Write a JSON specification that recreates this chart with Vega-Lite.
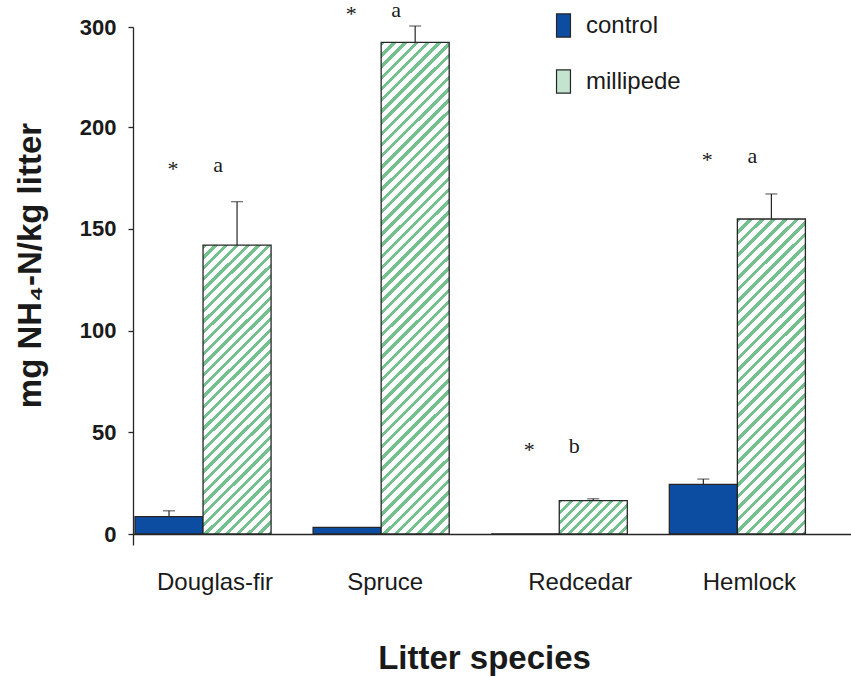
{
  "$schema": "https://vega.github.io/schema/vega-lite/v6.json",
  "width": 718,
  "height": 518,
  "autosize": {"type": "none"},
  "padding": {"left": 133, "top": 27, "right": 0, "bottom": 132},
  "background": "white",
  "config": {"font": "Liberation Sans", "view": {"stroke": null}, "axis": {"grid": false}},
  "datasets": {
    "bars": [
      {"species": "Douglas-fir", "treatment": "control", "value": 8.5, "err": 11.4},
      {"species": "Douglas-fir", "treatment": "millipede", "value": 142, "err": 163.3},
      {"species": "Spruce", "treatment": "control", "value": 3.3, "err": null},
      {"species": "Spruce", "treatment": "millipede", "value": 284.7, "err": 301},
      {"species": "Redcedar", "treatment": "control", "value": 0, "err": null},
      {"species": "Redcedar", "treatment": "millipede", "value": 16.4, "err": 17.3},
      {"species": "Hemlock", "treatment": "control", "value": 24.4, "err": 27},
      {"species": "Hemlock", "treatment": "millipede", "value": 154.8, "err": 167.1}
    ],
    "ann": [
      {"species": "Douglas-fir", "letter": "a", "pos": 177.9},
      {"species": "Spruce", "letter": "a", "pos": 310},
      {"species": "Redcedar", "letter": "b", "pos": 39.8},
      {"species": "Hemlock", "letter": "a", "pos": 182.3}
    ]
  },
  "encoding": {
    "x": {
      "field": "species",
      "type": "nominal",
      "scale": {"domain": ["Douglas-fir", "Spruce", "Redcedar", "Hemlock"], "paddingInner": 0.236, "paddingOuter": 0.1336, "align": 0.042},
      "axis": {
        "title": "Litter species",
        "titleFontSize": 33,
        "titleFontWeight": "bold",
        "titleColor": "#1a1a1a",
        "titleX": 351,
        "titleY": 134,
        "titleAlign": "center",
        "titleBaseline": "alphabetic",
        "labelFontSize": 24,
        "labelFontWeight": "normal",
        "labelColor": "#1a1a1a",
        "labelAngle": 0,
        "labelBaseline": "alphabetic",
        "labelPadding": 55,
        "labelOffset": {"condition": [{"test": "datum.value === 'Spruce'", "value": 4}, {"test": "datum.value === 'Redcedar'", "value": 21}], "value": 12},
        "ticks": false,
        "tickSize": 0,
        "domainColor": "#262626",
        "domainWidth": 1.3,
        "offset": -11
      }
    }
  },
  "layer": [
    {
      "data": {"name": "bars"},
      "mark": {"type": "bar", "stroke": "#262626", "strokeWidth": 1.3},
      "encoding": {
        "xOffset": {"field": "treatment", "type": "nominal", "scale": {"domain": ["control", "millipede"], "paddingInner": 0, "paddingOuter": 0}},
        "y": {
          "field": "value",
          "type": "quantitative",
          "scale": {"domain": [-5.4, 200, 300], "range": [518, 100, 0], "zero": false, "nice": false},
          "axis": {"values": [0, 50, 100, 150, 200, 300], "title": "mg NH₄-N/kg litter", "titleFontSize": 33, "titleFontWeight": "bold", "titleColor": "#1a1a1a", "titleX": -93, "titleY": 238, "titleAngle": -90, "titleAlign": "center", "titleBaseline": "alphabetic", "labelFontSize": 22, "labelFontWeight": "bold", "labelColor": "#1a1a1a", "labelPadding": 12, "tickSize": 5, "tickColor": "#262626", "tickWidth": 1.3, "domainColor": "#262626", "domainWidth": 1.3, "labelFlush": false, "labelOverlap": false, "grid": false}
        },
        "y2": {"datum": 0},
        "fill": {
          "field": "treatment",
          "type": "nominal",
          "scale": {"domain": ["control", "millipede"], "range": ["#0c4da2", "#c4e4cf"]},
          "legend": {
            "title": null,
            "orient": "none",
            "legendX": 418,
            "legendY": -14,
            "direction": "vertical",
            "symbolType": "M-0.6,-1H0.6V1H-0.6Z",
            "symbolSize": 540,
            "symbolStrokeColor": "#262626",
            "symbolStrokeWidth": 1.2,
            "labelFont": "Liberation Sans",
            "labelFontSize": 24,
            "labelColor": "#1a1a1a",
            "labelOffset": 10,
            "rowPadding": 27,
            "padding": 0
          },
          "condition": [
            {"test": "datum.treatment === 'millipede' && datum.species === 'Douglas-fir'", "value": {"gradient": "linear", "x1": 0, "y1": 0, "x2": 0.274, "y2": 1.17, "stops": [
              {"offset": 0, "color": "#74c08f"}, {"offset": 0.012, "color": "#74c08f"}, {"offset": 0.012, "color": "#ffffff"}, {"offset": 0.03, "color": "#ffffff"},
              {"offset": 0.03, "color": "#74c08f"}, {"offset": 0.042, "color": "#74c08f"}, {"offset": 0.042, "color": "#ffffff"}, {"offset": 0.06, "color": "#ffffff"},
              {"offset": 0.06, "color": "#74c08f"}, {"offset": 0.072, "color": "#74c08f"}, {"offset": 0.072, "color": "#ffffff"}, {"offset": 0.09, "color": "#ffffff"},
              {"offset": 0.09, "color": "#74c08f"}, {"offset": 0.102, "color": "#74c08f"}, {"offset": 0.102, "color": "#ffffff"}, {"offset": 0.12, "color": "#ffffff"},
              {"offset": 0.12, "color": "#74c08f"}, {"offset": 0.132, "color": "#74c08f"}, {"offset": 0.132, "color": "#ffffff"}, {"offset": 0.15, "color": "#ffffff"},
              {"offset": 0.15, "color": "#74c08f"}, {"offset": 0.162, "color": "#74c08f"}, {"offset": 0.162, "color": "#ffffff"}, {"offset": 0.18, "color": "#ffffff"},
              {"offset": 0.18, "color": "#74c08f"}, {"offset": 0.192, "color": "#74c08f"}, {"offset": 0.192, "color": "#ffffff"}, {"offset": 0.21, "color": "#ffffff"},
              {"offset": 0.21, "color": "#74c08f"}, {"offset": 0.222, "color": "#74c08f"}, {"offset": 0.222, "color": "#ffffff"}, {"offset": 0.24, "color": "#ffffff"},
              {"offset": 0.24, "color": "#74c08f"}, {"offset": 0.252, "color": "#74c08f"}, {"offset": 0.252, "color": "#ffffff"}, {"offset": 0.27, "color": "#ffffff"},
              {"offset": 0.27, "color": "#74c08f"}, {"offset": 0.282, "color": "#74c08f"}, {"offset": 0.282, "color": "#ffffff"}, {"offset": 0.3, "color": "#ffffff"},
              {"offset": 0.3, "color": "#74c08f"}, {"offset": 0.312, "color": "#74c08f"}, {"offset": 0.312, "color": "#ffffff"}, {"offset": 0.33, "color": "#ffffff"},
              {"offset": 0.33, "color": "#74c08f"}, {"offset": 0.342, "color": "#74c08f"}, {"offset": 0.342, "color": "#ffffff"}, {"offset": 0.36, "color": "#ffffff"},
              {"offset": 0.36, "color": "#74c08f"}, {"offset": 0.372, "color": "#74c08f"}, {"offset": 0.372, "color": "#ffffff"}, {"offset": 0.39, "color": "#ffffff"},
              {"offset": 0.39, "color": "#74c08f"}, {"offset": 0.402, "color": "#74c08f"}, {"offset": 0.402, "color": "#ffffff"}, {"offset": 0.42, "color": "#ffffff"},
              {"offset": 0.42, "color": "#74c08f"}, {"offset": 0.432, "color": "#74c08f"}, {"offset": 0.432, "color": "#ffffff"}, {"offset": 0.45, "color": "#ffffff"},
              {"offset": 0.45, "color": "#74c08f"}, {"offset": 0.462, "color": "#74c08f"}, {"offset": 0.462, "color": "#ffffff"}, {"offset": 0.48, "color": "#ffffff"},
              {"offset": 0.48, "color": "#74c08f"}, {"offset": 0.492, "color": "#74c08f"}, {"offset": 0.492, "color": "#ffffff"}, {"offset": 0.51, "color": "#ffffff"},
              {"offset": 0.51, "color": "#74c08f"}, {"offset": 0.522, "color": "#74c08f"}, {"offset": 0.522, "color": "#ffffff"}, {"offset": 0.54, "color": "#ffffff"},
              {"offset": 0.54, "color": "#74c08f"}, {"offset": 0.552, "color": "#74c08f"}, {"offset": 0.552, "color": "#ffffff"}, {"offset": 0.57, "color": "#ffffff"},
              {"offset": 0.57, "color": "#74c08f"}, {"offset": 0.582, "color": "#74c08f"}, {"offset": 0.582, "color": "#ffffff"}, {"offset": 0.6, "color": "#ffffff"},
              {"offset": 0.6, "color": "#74c08f"}, {"offset": 0.612, "color": "#74c08f"}, {"offset": 0.612, "color": "#ffffff"}, {"offset": 0.63, "color": "#ffffff"},
              {"offset": 0.63, "color": "#74c08f"}, {"offset": 0.642, "color": "#74c08f"}, {"offset": 0.642, "color": "#ffffff"}, {"offset": 0.66, "color": "#ffffff"},
              {"offset": 0.66, "color": "#74c08f"}, {"offset": 0.672, "color": "#74c08f"}, {"offset": 0.672, "color": "#ffffff"}, {"offset": 0.69, "color": "#ffffff"},
              {"offset": 0.69, "color": "#74c08f"}, {"offset": 0.702, "color": "#74c08f"}, {"offset": 0.702, "color": "#ffffff"}, {"offset": 0.72, "color": "#ffffff"},
              {"offset": 0.72, "color": "#74c08f"}, {"offset": 0.732, "color": "#74c08f"}, {"offset": 0.732, "color": "#ffffff"}, {"offset": 0.75, "color": "#ffffff"},
              {"offset": 0.75, "color": "#74c08f"}, {"offset": 0.762, "color": "#74c08f"}, {"offset": 0.762, "color": "#ffffff"}, {"offset": 0.78, "color": "#ffffff"},
              {"offset": 0.78, "color": "#74c08f"}, {"offset": 0.792, "color": "#74c08f"}, {"offset": 0.792, "color": "#ffffff"}, {"offset": 0.81, "color": "#ffffff"},
              {"offset": 0.81, "color": "#74c08f"}, {"offset": 0.822, "color": "#74c08f"}, {"offset": 0.822, "color": "#ffffff"}, {"offset": 0.84, "color": "#ffffff"},
              {"offset": 0.84, "color": "#74c08f"}, {"offset": 0.852, "color": "#74c08f"}, {"offset": 0.852, "color": "#ffffff"}, {"offset": 0.87, "color": "#ffffff"},
              {"offset": 0.87, "color": "#74c08f"}, {"offset": 0.882, "color": "#74c08f"}, {"offset": 0.882, "color": "#ffffff"}, {"offset": 0.9, "color": "#ffffff"},
              {"offset": 0.9, "color": "#74c08f"}, {"offset": 0.912, "color": "#74c08f"}, {"offset": 0.912, "color": "#ffffff"}, {"offset": 0.93, "color": "#ffffff"},
              {"offset": 0.93, "color": "#74c08f"}, {"offset": 0.942, "color": "#74c08f"}, {"offset": 0.942, "color": "#ffffff"}, {"offset": 0.96, "color": "#ffffff"},
              {"offset": 0.96, "color": "#74c08f"}, {"offset": 0.972, "color": "#74c08f"}, {"offset": 0.972, "color": "#ffffff"}, {"offset": 0.99, "color": "#ffffff"},
              {"offset": 0.99, "color": "#74c08f"}, {"offset": 1, "color": "#74c08f"}
            ]}},
            {"test": "datum.treatment === 'millipede' && datum.species === 'Spruce'", "value": {"gradient": "linear", "x1": 0, "y1": 0, "x2": 0.154, "y2": 1.117, "stops": [
              {"offset": 0, "color": "#74c08f"}, {"offset": 0.008, "color": "#74c08f"}, {"offset": 0.008, "color": "#ffffff"}, {"offset": 0.02, "color": "#ffffff"},
              {"offset": 0.02, "color": "#74c08f"}, {"offset": 0.028, "color": "#74c08f"}, {"offset": 0.028, "color": "#ffffff"}, {"offset": 0.04, "color": "#ffffff"},
              {"offset": 0.04, "color": "#74c08f"}, {"offset": 0.048, "color": "#74c08f"}, {"offset": 0.048, "color": "#ffffff"}, {"offset": 0.06, "color": "#ffffff"},
              {"offset": 0.06, "color": "#74c08f"}, {"offset": 0.068, "color": "#74c08f"}, {"offset": 0.068, "color": "#ffffff"}, {"offset": 0.08, "color": "#ffffff"},
              {"offset": 0.08, "color": "#74c08f"}, {"offset": 0.088, "color": "#74c08f"}, {"offset": 0.088, "color": "#ffffff"}, {"offset": 0.1, "color": "#ffffff"},
              {"offset": 0.1, "color": "#74c08f"}, {"offset": 0.108, "color": "#74c08f"}, {"offset": 0.108, "color": "#ffffff"}, {"offset": 0.12, "color": "#ffffff"},
              {"offset": 0.12, "color": "#74c08f"}, {"offset": 0.128, "color": "#74c08f"}, {"offset": 0.128, "color": "#ffffff"}, {"offset": 0.14, "color": "#ffffff"},
              {"offset": 0.14, "color": "#74c08f"}, {"offset": 0.148, "color": "#74c08f"}, {"offset": 0.148, "color": "#ffffff"}, {"offset": 0.16, "color": "#ffffff"},
              {"offset": 0.16, "color": "#74c08f"}, {"offset": 0.168, "color": "#74c08f"}, {"offset": 0.168, "color": "#ffffff"}, {"offset": 0.18, "color": "#ffffff"},
              {"offset": 0.18, "color": "#74c08f"}, {"offset": 0.188, "color": "#74c08f"}, {"offset": 0.188, "color": "#ffffff"}, {"offset": 0.2, "color": "#ffffff"},
              {"offset": 0.2, "color": "#74c08f"}, {"offset": 0.208, "color": "#74c08f"}, {"offset": 0.208, "color": "#ffffff"}, {"offset": 0.22, "color": "#ffffff"},
              {"offset": 0.22, "color": "#74c08f"}, {"offset": 0.228, "color": "#74c08f"}, {"offset": 0.228, "color": "#ffffff"}, {"offset": 0.24, "color": "#ffffff"},
              {"offset": 0.24, "color": "#74c08f"}, {"offset": 0.248, "color": "#74c08f"}, {"offset": 0.248, "color": "#ffffff"}, {"offset": 0.26, "color": "#ffffff"},
              {"offset": 0.26, "color": "#74c08f"}, {"offset": 0.268, "color": "#74c08f"}, {"offset": 0.268, "color": "#ffffff"}, {"offset": 0.28, "color": "#ffffff"},
              {"offset": 0.28, "color": "#74c08f"}, {"offset": 0.288, "color": "#74c08f"}, {"offset": 0.288, "color": "#ffffff"}, {"offset": 0.3, "color": "#ffffff"},
              {"offset": 0.3, "color": "#74c08f"}, {"offset": 0.308, "color": "#74c08f"}, {"offset": 0.308, "color": "#ffffff"}, {"offset": 0.32, "color": "#ffffff"},
              {"offset": 0.32, "color": "#74c08f"}, {"offset": 0.328, "color": "#74c08f"}, {"offset": 0.328, "color": "#ffffff"}, {"offset": 0.34, "color": "#ffffff"},
              {"offset": 0.34, "color": "#74c08f"}, {"offset": 0.348, "color": "#74c08f"}, {"offset": 0.348, "color": "#ffffff"}, {"offset": 0.36, "color": "#ffffff"},
              {"offset": 0.36, "color": "#74c08f"}, {"offset": 0.368, "color": "#74c08f"}, {"offset": 0.368, "color": "#ffffff"}, {"offset": 0.38, "color": "#ffffff"},
              {"offset": 0.38, "color": "#74c08f"}, {"offset": 0.388, "color": "#74c08f"}, {"offset": 0.388, "color": "#ffffff"}, {"offset": 0.4, "color": "#ffffff"},
              {"offset": 0.4, "color": "#74c08f"}, {"offset": 0.408, "color": "#74c08f"}, {"offset": 0.408, "color": "#ffffff"}, {"offset": 0.42, "color": "#ffffff"},
              {"offset": 0.42, "color": "#74c08f"}, {"offset": 0.428, "color": "#74c08f"}, {"offset": 0.428, "color": "#ffffff"}, {"offset": 0.44, "color": "#ffffff"},
              {"offset": 0.44, "color": "#74c08f"}, {"offset": 0.448, "color": "#74c08f"}, {"offset": 0.448, "color": "#ffffff"}, {"offset": 0.46, "color": "#ffffff"},
              {"offset": 0.46, "color": "#74c08f"}, {"offset": 0.468, "color": "#74c08f"}, {"offset": 0.468, "color": "#ffffff"}, {"offset": 0.48, "color": "#ffffff"},
              {"offset": 0.48, "color": "#74c08f"}, {"offset": 0.488, "color": "#74c08f"}, {"offset": 0.488, "color": "#ffffff"}, {"offset": 0.5, "color": "#ffffff"},
              {"offset": 0.5, "color": "#74c08f"}, {"offset": 0.508, "color": "#74c08f"}, {"offset": 0.508, "color": "#ffffff"}, {"offset": 0.52, "color": "#ffffff"},
              {"offset": 0.52, "color": "#74c08f"}, {"offset": 0.528, "color": "#74c08f"}, {"offset": 0.528, "color": "#ffffff"}, {"offset": 0.54, "color": "#ffffff"},
              {"offset": 0.54, "color": "#74c08f"}, {"offset": 0.548, "color": "#74c08f"}, {"offset": 0.548, "color": "#ffffff"}, {"offset": 0.56, "color": "#ffffff"},
              {"offset": 0.56, "color": "#74c08f"}, {"offset": 0.568, "color": "#74c08f"}, {"offset": 0.568, "color": "#ffffff"}, {"offset": 0.58, "color": "#ffffff"},
              {"offset": 0.58, "color": "#74c08f"}, {"offset": 0.588, "color": "#74c08f"}, {"offset": 0.588, "color": "#ffffff"}, {"offset": 0.6, "color": "#ffffff"},
              {"offset": 0.6, "color": "#74c08f"}, {"offset": 0.608, "color": "#74c08f"}, {"offset": 0.608, "color": "#ffffff"}, {"offset": 0.62, "color": "#ffffff"},
              {"offset": 0.62, "color": "#74c08f"}, {"offset": 0.628, "color": "#74c08f"}, {"offset": 0.628, "color": "#ffffff"}, {"offset": 0.64, "color": "#ffffff"},
              {"offset": 0.64, "color": "#74c08f"}, {"offset": 0.648, "color": "#74c08f"}, {"offset": 0.648, "color": "#ffffff"}, {"offset": 0.66, "color": "#ffffff"},
              {"offset": 0.66, "color": "#74c08f"}, {"offset": 0.668, "color": "#74c08f"}, {"offset": 0.668, "color": "#ffffff"}, {"offset": 0.68, "color": "#ffffff"},
              {"offset": 0.68, "color": "#74c08f"}, {"offset": 0.688, "color": "#74c08f"}, {"offset": 0.688, "color": "#ffffff"}, {"offset": 0.7, "color": "#ffffff"},
              {"offset": 0.7, "color": "#74c08f"}, {"offset": 0.708, "color": "#74c08f"}, {"offset": 0.708, "color": "#ffffff"}, {"offset": 0.72, "color": "#ffffff"},
              {"offset": 0.72, "color": "#74c08f"}, {"offset": 0.728, "color": "#74c08f"}, {"offset": 0.728, "color": "#ffffff"}, {"offset": 0.74, "color": "#ffffff"},
              {"offset": 0.74, "color": "#74c08f"}, {"offset": 0.748, "color": "#74c08f"}, {"offset": 0.748, "color": "#ffffff"}, {"offset": 0.76, "color": "#ffffff"},
              {"offset": 0.76, "color": "#74c08f"}, {"offset": 0.768, "color": "#74c08f"}, {"offset": 0.768, "color": "#ffffff"}, {"offset": 0.78, "color": "#ffffff"},
              {"offset": 0.78, "color": "#74c08f"}, {"offset": 0.788, "color": "#74c08f"}, {"offset": 0.788, "color": "#ffffff"}, {"offset": 0.8, "color": "#ffffff"},
              {"offset": 0.8, "color": "#74c08f"}, {"offset": 0.808, "color": "#74c08f"}, {"offset": 0.808, "color": "#ffffff"}, {"offset": 0.82, "color": "#ffffff"},
              {"offset": 0.82, "color": "#74c08f"}, {"offset": 0.828, "color": "#74c08f"}, {"offset": 0.828, "color": "#ffffff"}, {"offset": 0.84, "color": "#ffffff"},
              {"offset": 0.84, "color": "#74c08f"}, {"offset": 0.848, "color": "#74c08f"}, {"offset": 0.848, "color": "#ffffff"}, {"offset": 0.86, "color": "#ffffff"},
              {"offset": 0.86, "color": "#74c08f"}, {"offset": 0.868, "color": "#74c08f"}, {"offset": 0.868, "color": "#ffffff"}, {"offset": 0.88, "color": "#ffffff"},
              {"offset": 0.88, "color": "#74c08f"}, {"offset": 0.888, "color": "#74c08f"}, {"offset": 0.888, "color": "#ffffff"}, {"offset": 0.9, "color": "#ffffff"},
              {"offset": 0.9, "color": "#74c08f"}, {"offset": 0.908, "color": "#74c08f"}, {"offset": 0.908, "color": "#ffffff"}, {"offset": 0.92, "color": "#ffffff"},
              {"offset": 0.92, "color": "#74c08f"}, {"offset": 0.928, "color": "#74c08f"}, {"offset": 0.928, "color": "#ffffff"}, {"offset": 0.94, "color": "#ffffff"},
              {"offset": 0.94, "color": "#74c08f"}, {"offset": 0.948, "color": "#74c08f"}, {"offset": 0.948, "color": "#ffffff"}, {"offset": 0.96, "color": "#ffffff"},
              {"offset": 0.96, "color": "#74c08f"}, {"offset": 0.968, "color": "#74c08f"}, {"offset": 0.968, "color": "#ffffff"}, {"offset": 0.98, "color": "#ffffff"},
              {"offset": 0.98, "color": "#74c08f"}, {"offset": 0.988, "color": "#74c08f"}, {"offset": 0.988, "color": "#ffffff"}, {"offset": 1, "color": "#ffffff"}
            ]}},
            {"test": "datum.treatment === 'millipede' && datum.species === 'Redcedar'", "value": {"gradient": "linear", "x1": 0, "y1": 0, "x2": 1.201, "y2": 0.59, "stops": [
              {"offset": 0, "color": "#74c08f"}, {"offset": 0.04, "color": "#74c08f"}, {"offset": 0.04, "color": "#ffffff"}, {"offset": 0.1, "color": "#ffffff"},
              {"offset": 0.1, "color": "#74c08f"}, {"offset": 0.14, "color": "#74c08f"}, {"offset": 0.14, "color": "#ffffff"}, {"offset": 0.2, "color": "#ffffff"},
              {"offset": 0.2, "color": "#74c08f"}, {"offset": 0.24, "color": "#74c08f"}, {"offset": 0.24, "color": "#ffffff"}, {"offset": 0.3, "color": "#ffffff"},
              {"offset": 0.3, "color": "#74c08f"}, {"offset": 0.34, "color": "#74c08f"}, {"offset": 0.34, "color": "#ffffff"}, {"offset": 0.4, "color": "#ffffff"},
              {"offset": 0.4, "color": "#74c08f"}, {"offset": 0.44, "color": "#74c08f"}, {"offset": 0.44, "color": "#ffffff"}, {"offset": 0.5, "color": "#ffffff"},
              {"offset": 0.5, "color": "#74c08f"}, {"offset": 0.54, "color": "#74c08f"}, {"offset": 0.54, "color": "#ffffff"}, {"offset": 0.6, "color": "#ffffff"},
              {"offset": 0.6, "color": "#74c08f"}, {"offset": 0.64, "color": "#74c08f"}, {"offset": 0.64, "color": "#ffffff"}, {"offset": 0.7, "color": "#ffffff"},
              {"offset": 0.7, "color": "#74c08f"}, {"offset": 0.74, "color": "#74c08f"}, {"offset": 0.74, "color": "#ffffff"}, {"offset": 0.8, "color": "#ffffff"},
              {"offset": 0.8, "color": "#74c08f"}, {"offset": 0.84, "color": "#74c08f"}, {"offset": 0.84, "color": "#ffffff"}, {"offset": 0.9, "color": "#ffffff"},
              {"offset": 0.9, "color": "#74c08f"}, {"offset": 0.94, "color": "#74c08f"}, {"offset": 0.94, "color": "#ffffff"}, {"offset": 1, "color": "#ffffff"}
            ]}},
            {"test": "datum.treatment === 'millipede' && datum.species === 'Hemlock'", "value": {"gradient": "linear", "x1": 0, "y1": 0, "x2": 0.25, "y2": 1.162, "stops": [
              {"offset": 0, "color": "#74c08f"}, {"offset": 0.012, "color": "#74c08f"}, {"offset": 0.012, "color": "#ffffff"}, {"offset": 0.03, "color": "#ffffff"},
              {"offset": 0.03, "color": "#74c08f"}, {"offset": 0.042, "color": "#74c08f"}, {"offset": 0.042, "color": "#ffffff"}, {"offset": 0.06, "color": "#ffffff"},
              {"offset": 0.06, "color": "#74c08f"}, {"offset": 0.072, "color": "#74c08f"}, {"offset": 0.072, "color": "#ffffff"}, {"offset": 0.09, "color": "#ffffff"},
              {"offset": 0.09, "color": "#74c08f"}, {"offset": 0.102, "color": "#74c08f"}, {"offset": 0.102, "color": "#ffffff"}, {"offset": 0.12, "color": "#ffffff"},
              {"offset": 0.12, "color": "#74c08f"}, {"offset": 0.132, "color": "#74c08f"}, {"offset": 0.132, "color": "#ffffff"}, {"offset": 0.15, "color": "#ffffff"},
              {"offset": 0.15, "color": "#74c08f"}, {"offset": 0.162, "color": "#74c08f"}, {"offset": 0.162, "color": "#ffffff"}, {"offset": 0.18, "color": "#ffffff"},
              {"offset": 0.18, "color": "#74c08f"}, {"offset": 0.192, "color": "#74c08f"}, {"offset": 0.192, "color": "#ffffff"}, {"offset": 0.21, "color": "#ffffff"},
              {"offset": 0.21, "color": "#74c08f"}, {"offset": 0.222, "color": "#74c08f"}, {"offset": 0.222, "color": "#ffffff"}, {"offset": 0.24, "color": "#ffffff"},
              {"offset": 0.24, "color": "#74c08f"}, {"offset": 0.252, "color": "#74c08f"}, {"offset": 0.252, "color": "#ffffff"}, {"offset": 0.27, "color": "#ffffff"},
              {"offset": 0.27, "color": "#74c08f"}, {"offset": 0.282, "color": "#74c08f"}, {"offset": 0.282, "color": "#ffffff"}, {"offset": 0.3, "color": "#ffffff"},
              {"offset": 0.3, "color": "#74c08f"}, {"offset": 0.312, "color": "#74c08f"}, {"offset": 0.312, "color": "#ffffff"}, {"offset": 0.33, "color": "#ffffff"},
              {"offset": 0.33, "color": "#74c08f"}, {"offset": 0.342, "color": "#74c08f"}, {"offset": 0.342, "color": "#ffffff"}, {"offset": 0.36, "color": "#ffffff"},
              {"offset": 0.36, "color": "#74c08f"}, {"offset": 0.372, "color": "#74c08f"}, {"offset": 0.372, "color": "#ffffff"}, {"offset": 0.39, "color": "#ffffff"},
              {"offset": 0.39, "color": "#74c08f"}, {"offset": 0.402, "color": "#74c08f"}, {"offset": 0.402, "color": "#ffffff"}, {"offset": 0.42, "color": "#ffffff"},
              {"offset": 0.42, "color": "#74c08f"}, {"offset": 0.432, "color": "#74c08f"}, {"offset": 0.432, "color": "#ffffff"}, {"offset": 0.45, "color": "#ffffff"},
              {"offset": 0.45, "color": "#74c08f"}, {"offset": 0.462, "color": "#74c08f"}, {"offset": 0.462, "color": "#ffffff"}, {"offset": 0.48, "color": "#ffffff"},
              {"offset": 0.48, "color": "#74c08f"}, {"offset": 0.492, "color": "#74c08f"}, {"offset": 0.492, "color": "#ffffff"}, {"offset": 0.51, "color": "#ffffff"},
              {"offset": 0.51, "color": "#74c08f"}, {"offset": 0.522, "color": "#74c08f"}, {"offset": 0.522, "color": "#ffffff"}, {"offset": 0.54, "color": "#ffffff"},
              {"offset": 0.54, "color": "#74c08f"}, {"offset": 0.552, "color": "#74c08f"}, {"offset": 0.552, "color": "#ffffff"}, {"offset": 0.57, "color": "#ffffff"},
              {"offset": 0.57, "color": "#74c08f"}, {"offset": 0.582, "color": "#74c08f"}, {"offset": 0.582, "color": "#ffffff"}, {"offset": 0.6, "color": "#ffffff"},
              {"offset": 0.6, "color": "#74c08f"}, {"offset": 0.612, "color": "#74c08f"}, {"offset": 0.612, "color": "#ffffff"}, {"offset": 0.63, "color": "#ffffff"},
              {"offset": 0.63, "color": "#74c08f"}, {"offset": 0.642, "color": "#74c08f"}, {"offset": 0.642, "color": "#ffffff"}, {"offset": 0.66, "color": "#ffffff"},
              {"offset": 0.66, "color": "#74c08f"}, {"offset": 0.672, "color": "#74c08f"}, {"offset": 0.672, "color": "#ffffff"}, {"offset": 0.69, "color": "#ffffff"},
              {"offset": 0.69, "color": "#74c08f"}, {"offset": 0.702, "color": "#74c08f"}, {"offset": 0.702, "color": "#ffffff"}, {"offset": 0.72, "color": "#ffffff"},
              {"offset": 0.72, "color": "#74c08f"}, {"offset": 0.732, "color": "#74c08f"}, {"offset": 0.732, "color": "#ffffff"}, {"offset": 0.75, "color": "#ffffff"},
              {"offset": 0.75, "color": "#74c08f"}, {"offset": 0.762, "color": "#74c08f"}, {"offset": 0.762, "color": "#ffffff"}, {"offset": 0.78, "color": "#ffffff"},
              {"offset": 0.78, "color": "#74c08f"}, {"offset": 0.792, "color": "#74c08f"}, {"offset": 0.792, "color": "#ffffff"}, {"offset": 0.81, "color": "#ffffff"},
              {"offset": 0.81, "color": "#74c08f"}, {"offset": 0.822, "color": "#74c08f"}, {"offset": 0.822, "color": "#ffffff"}, {"offset": 0.84, "color": "#ffffff"},
              {"offset": 0.84, "color": "#74c08f"}, {"offset": 0.852, "color": "#74c08f"}, {"offset": 0.852, "color": "#ffffff"}, {"offset": 0.87, "color": "#ffffff"},
              {"offset": 0.87, "color": "#74c08f"}, {"offset": 0.882, "color": "#74c08f"}, {"offset": 0.882, "color": "#ffffff"}, {"offset": 0.9, "color": "#ffffff"},
              {"offset": 0.9, "color": "#74c08f"}, {"offset": 0.912, "color": "#74c08f"}, {"offset": 0.912, "color": "#ffffff"}, {"offset": 0.93, "color": "#ffffff"},
              {"offset": 0.93, "color": "#74c08f"}, {"offset": 0.942, "color": "#74c08f"}, {"offset": 0.942, "color": "#ffffff"}, {"offset": 0.96, "color": "#ffffff"},
              {"offset": 0.96, "color": "#74c08f"}, {"offset": 0.972, "color": "#74c08f"}, {"offset": 0.972, "color": "#ffffff"}, {"offset": 0.99, "color": "#ffffff"},
              {"offset": 0.99, "color": "#74c08f"}, {"offset": 1, "color": "#74c08f"}
            ]}}
          ]
        }
      }
    },
    {
      "data": {"name": "bars"},
      "transform": [{"filter": "datum.err != null"}],
      "mark": {"type": "rule", "color": "#262626", "strokeWidth": 1.2},
      "encoding": {
        "xOffset": {"field": "treatment", "type": "nominal", "scale": {"domain": ["control", "millipede"], "paddingInner": 0, "paddingOuter": 0}},
        "y": {"field": "value", "type": "quantitative", "scale": {"domain": [-5.4, 200, 300], "range": [518, 100, 0], "zero": false, "nice": false},
          "axis": {"values": [0, 50, 100, 150, 200, 300], "title": "mg NH₄-N/kg litter", "titleFontSize": 33, "titleFontWeight": "bold", "titleColor": "#1a1a1a", "titleX": -93, "titleY": 238, "titleAngle": -90, "titleAlign": "center", "titleBaseline": "alphabetic", "labelFontSize": 22, "labelFontWeight": "bold", "labelColor": "#1a1a1a", "labelPadding": 12, "tickSize": 5, "tickColor": "#262626", "tickWidth": 1.3, "domainColor": "#262626", "domainWidth": 1.3, "labelFlush": false, "labelOverlap": false, "grid": false}},
        "y2": {"field": "err"}
      }
    },
    {
      "data": {"name": "bars"},
      "transform": [{"filter": "datum.err != null"}],
      "mark": {"type": "tick", "color": "#262626", "thickness": 1.2, "size": 12},
      "encoding": {
        "xOffset": {"field": "treatment", "type": "nominal", "scale": {"domain": ["control", "millipede"], "paddingInner": 0, "paddingOuter": 0}},
        "y": {"field": "err", "type": "quantitative", "scale": {"domain": [-5.4, 200, 300], "range": [518, 100, 0], "zero": false, "nice": false},
          "axis": {"values": [0, 50, 100, 150, 200, 300], "title": "mg NH₄-N/kg litter", "titleFontSize": 33, "titleFontWeight": "bold", "titleColor": "#1a1a1a", "titleX": -93, "titleY": 238, "titleAngle": -90, "titleAlign": "center", "titleBaseline": "alphabetic", "labelFontSize": 22, "labelFontWeight": "bold", "labelColor": "#1a1a1a", "labelPadding": 12, "tickSize": 5, "tickColor": "#262626", "tickWidth": 1.3, "domainColor": "#262626", "domainWidth": 1.3, "labelFlush": false, "labelOverlap": false, "grid": false}}
      }
    },
    {
      "data": {"name": "ann"},
      "mark": {"type": "text", "font": "Liberation Serif", "fontSize": 22, "color": "#1a1a1a", "baseline": "alphabetic", "align": "center", "dx": -30, "dy": 4},
      "encoding": {
        "y": {"field": "pos", "type": "quantitative", "scale": {"domain": [-5.4, 200, 300], "range": [518, 100, 0], "zero": false, "nice": false},
          "axis": {"values": [0, 50, 100, 150, 200, 300], "title": "mg NH₄-N/kg litter", "titleFontSize": 33, "titleFontWeight": "bold", "titleColor": "#1a1a1a", "titleX": -93, "titleY": 238, "titleAngle": -90, "titleAlign": "center", "titleBaseline": "alphabetic", "labelFontSize": 22, "labelFontWeight": "bold", "labelColor": "#1a1a1a", "labelPadding": 12, "tickSize": 5, "tickColor": "#262626", "tickWidth": 1.3, "domainColor": "#262626", "domainWidth": 1.3, "labelFlush": false, "labelOverlap": false, "grid": false}},
        "text": {"value": "*"}
      }
    },
    {
      "data": {"name": "ann"},
      "mark": {"type": "text", "font": "Liberation Serif", "fontSize": 22, "color": "#1a1a1a", "baseline": "alphabetic", "align": "center", "dx": 15},
      "encoding": {
        "y": {"field": "pos", "type": "quantitative", "scale": {"domain": [-5.4, 200, 300], "range": [518, 100, 0], "zero": false, "nice": false},
          "axis": {"values": [0, 50, 100, 150, 200, 300], "title": "mg NH₄-N/kg litter", "titleFontSize": 33, "titleFontWeight": "bold", "titleColor": "#1a1a1a", "titleX": -93, "titleY": 238, "titleAngle": -90, "titleAlign": "center", "titleBaseline": "alphabetic", "labelFontSize": 22, "labelFontWeight": "bold", "labelColor": "#1a1a1a", "labelPadding": 12, "tickSize": 5, "tickColor": "#262626", "tickWidth": 1.3, "domainColor": "#262626", "domainWidth": 1.3, "labelFlush": false, "labelOverlap": false, "grid": false}},
        "text": {"field": "letter"}
      }
    }
  ]
}
